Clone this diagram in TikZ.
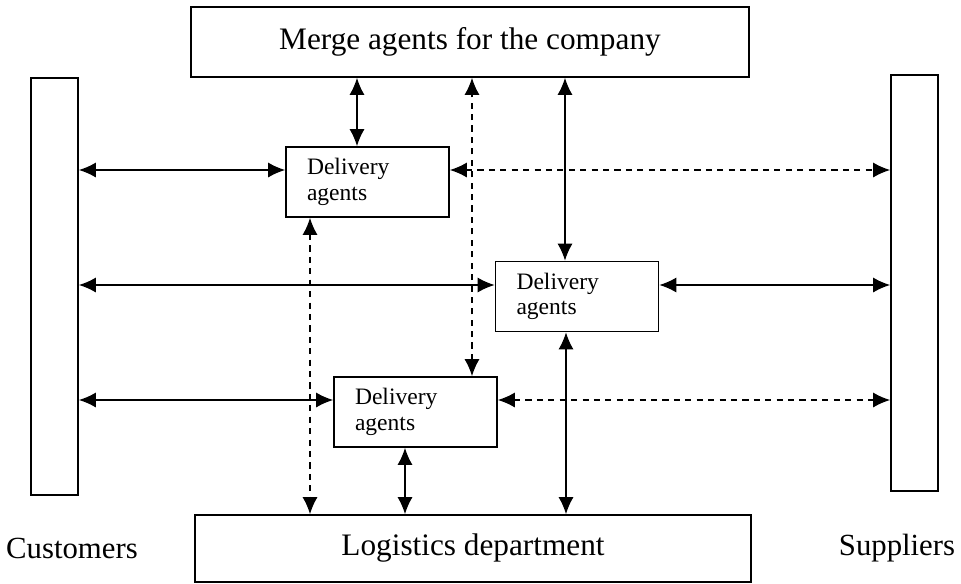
\documentclass[tikz,border=0pt]{standalone}
\usepackage{fontspec}
\setmainfont{Liberation Serif}
\usetikzlibrary{arrows.meta}

\begin{document}
\begin{tikzpicture}[x=0.02cm, y=-0.02cm,
        unit/.style={rectangle, draw, line width=0.9pt, inner sep=0pt, font=\fontsize{17.8}{20}\selectfont},
        bar/.style={rectangle, draw, line width=0.9pt, minimum width=0.94cm},
        agent/.style={rectangle, draw, line width=0.9pt, minimum height=1.4cm, inner ysep=0pt, inner xsep=0.42cm,
                      text width=2.42cm, align=left, font=\fontsize{13.4}{14.5}\selectfont},
        side/.style={font=\fontsize{17.5}{20}\selectfont},
        link/.style={{Latex[length=3.4mm,width=3mm]}-{Latex[length=3.4mm,width=3mm]}, line width=0.9pt},
        dlink/.style={link, dash pattern=on 3.5pt off 3pt}
    ]
        \useasboundingbox (0,0) rectangle (961,583);

        % Company and logistics
        \node[unit, minimum width=11.16cm, minimum height=1.4cm] (merge) at (470,42) {Merge agents for the company};
        \node[unit, minimum width=11.12cm, minimum height=1.34cm] (logist) at (473,548.5) {Logistics department};

        % Customers and suppliers
        \node[bar, minimum height=8.34cm] (cust) at (54.5,286.5) {};
        \node[bar, minimum height=8.32cm] (supp) at (914.5,283) {};
        \node[side] (custlabel) at (72,548) {Customers};
        \node[side] (supplabel) at (897,548) {Suppliers};

        % Delivery agents
        \node[agent] (da1) at (367.5,182) {Delivery\\agents};
        \node[agent] (da2) at (577,296.5) {Delivery\\agents};
        \node[agent] (da3) at (415.5,412) {Delivery\\agents};

        % Links to the company
        \draw[link] ([xshift=-0.21cm]da1.north) -- ([xshift=-0.21cm]da1.north |- merge.south);
        \draw[dlink] ([xshift=1.13cm]da3.north) -- ([xshift=1.13cm]da3.north |- merge.south);
        \draw[link] ([xshift=-0.24cm]da2.north) -- ([xshift=-0.24cm]da2.north |- merge.south);

        % Links to customers and suppliers
        \draw[link] ([yshift=0.24cm]da1.west) -- ([yshift=0.24cm]da1.west -| cust.east);
        \draw[dlink] ([yshift=0.24cm]da1.east) -- ([yshift=0.24cm]da1.east -| supp.west);
        \draw[link] ([yshift=0.23cm]da2.west) -- ([yshift=0.23cm]da2.west -| cust.east);
        \draw[link] ([yshift=0.23cm]da2.east) -- ([yshift=0.23cm]da2.east -| supp.west);
        \draw[link] ([yshift=0.24cm]da3.west) -- ([yshift=0.24cm]da3.west -| cust.east);
        \draw[dlink] ([yshift=0.24cm]da3.east) -- ([yshift=0.24cm]da3.east -| supp.west);

        % Links to logistics
        \draw[dlink] ([xshift=-1.15cm]da1.south) -- ([xshift=-1.15cm]da1.south |- logist.north);
        \draw[link] ([xshift=-0.21cm]da3.south) -- ([xshift=-0.21cm]da3.south |- logist.north);
        \draw[link] ([xshift=-0.22cm]da2.south) -- ([xshift=-0.22cm]da2.south |- logist.north);
    \end{tikzpicture}
\end{document}
